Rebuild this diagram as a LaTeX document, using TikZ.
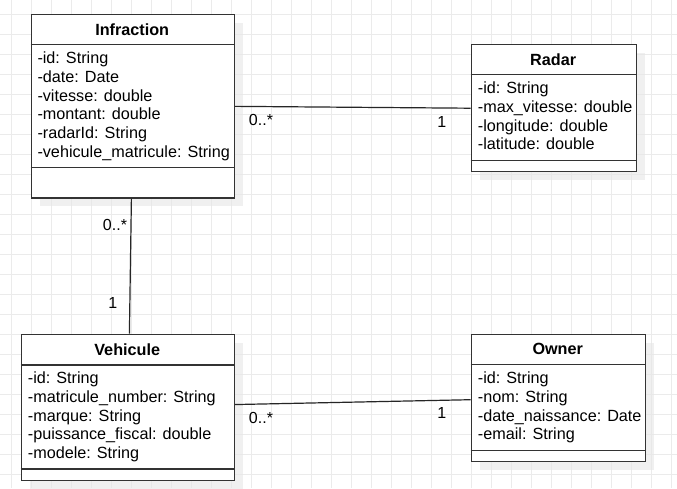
\documentclass[tikz,border=0pt]{standalone}
\usepackage{fontspec}
\setmainfont{Liberation Sans}
\usetikzlibrary{calc}
\definecolor{gridc}{HTML}{EBEBEB}
\definecolor{boxc}{HTML}{333333}
\definecolor{shadowc}{HTML}{E6E6E6}
\tikzset{
  classbox/.style={draw=boxc, line width=1.4pt, fill=white, rectangle, inner sep=0pt, anchor=north west},
  sep/.style={draw=boxc, line width=1.4pt},
  attr/.style={inner sep=0pt, anchor=base west, font=\fontsize{16.2}{18.8}\selectfont},
  ctitle/.style={inner sep=0pt, anchor=center, font=\fontsize{16.2}{18.8}\selectfont\bfseries},
  mult/.style={inner sep=0pt, anchor=center, font=\fontsize{16}{18}\selectfont},
  assoc/.style={draw=black!85, line width=1.2pt},
  shade/.style={fill=shadowc, opacity=0.6}
}
\begin{document}
\begin{tikzpicture}[x=1pt,y=-1pt]
\useasboundingbox (0,0) rectangle (677,488);
\fill[white] (0,0) rectangle (677,488);
\foreach \x in {11,31,...,671} \draw[gridc, line width=1pt] (\x,0) -- (\x,488);
\foreach \y in {14,34,...,474} \draw[gridc, line width=1pt] (0,\y) -- (677,\y);

% shadows
\fill[shade] (39.7,23) rectangle (242.7,206.3);
\fill[shade] (479.7,53) rectangle (644.7,180);
\fill[shade] (29.7,342.7) rectangle (242.7,489);
\fill[shade] (479.7,343) rectangle (653.7,470);

% Infraction
\node[classbox, minimum width=203pt, minimum height=183.3pt] (inf) at (30.7,14) {};
\draw[sep] (30.7,44.7) -- (233.7,44.7);
\draw[sep] (30.7,167.7) -- (233.7,167.7);
\node[ctitle] (inft) at (132.2,29.3) {Infraction};
\foreach \t [count=\i] in {-id: String,-date: Date,-vitesse: double,-montant: double,-radarId: String,-vehicule\_matricule: String}
  \node[attr] (infa\i) at ({37.3},{63.5+18.8*(\i-1)}) {\t};

% Radar
\node[classbox, minimum width=165pt, minimum height=127pt] (rad) at (470.7,44) {};
\draw[sep] (470.7,74.7) -- (635.7,74.7);
\draw[sep] (470.7,160.7) -- (635.7,160.7);
\node[ctitle] (radt) at (553.2,59.3) {Radar};
\foreach \t [count=\i] in {-id: String,-max\_vitesse: double,-longitude: double,-latitude: double}
  \node[attr] (rada\i) at ({477.7},{93.5+18.8*(\i-1)}) {\t};

% Vehicule
\node[classbox, minimum width=213pt, minimum height=146.3pt] (veh) at (20.7,333.7) {};
\draw[sep] (20.7,365) -- (233.7,365);
\draw[sep] (20.7,469) -- (233.7,469);
\node[ctitle] (veht) at (127.2,349.3) {Vehicule};
\foreach \t [count=\i] in {-id: String,-matricule\_number: String,-marque: String,-puissance\_fiscal: double,-modele: String}
  \node[attr] (veha\i) at ({27.7},{383.5+18.8*(\i-1)}) {\t};

% Owner
\node[classbox, minimum width=174pt, minimum height=127pt] (own) at (470.7,334) {};
\draw[sep] (470.7,364.7) -- (644.7,364.7);
\draw[sep] (470.7,450.7) -- (644.7,450.7);
\node[ctitle] (ownt) at (557.7,349.3) {Owner};
\foreach \t [count=\i] in {-id: String,-nom: String,-date\_naissance: Date,-email: String}
  \node[attr] (owna\i) at ({477.7},{383.5+18.8*(\i-1)}) {\t};

% associations
\draw[assoc] (inf.east) -- (rad.west);
\draw[assoc] ([xshift=-1.5pt]inf.south) -- ([xshift=1.5pt]veh.north);
\draw[assoc] ([yshift=3pt]veh.east) -- ([yshift=-1.5pt]own.west);

% multiplicities
\node[mult] (m1) at (261,119.5) {0..*};
\node[mult] (m2) at (441.7,122) {1};
\node[mult] (m3) at (115,225) {0..*};
\node[mult] (m4) at (112.7,303) {1};
\node[mult] (m5) at (261,417.5) {0..*};
\node[mult] (m6) at (441.7,412.5) {1};
\end{tikzpicture}
\end{document}
